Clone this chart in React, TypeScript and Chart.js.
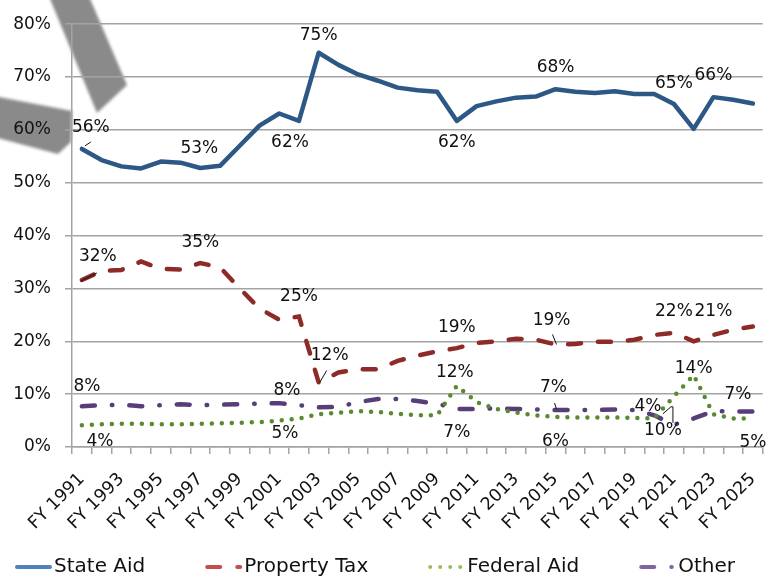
import React, { useEffect, useRef } from 'react';
import { Chart, registerables } from 'chart.js';

Chart.register(...registerables);

const years = [
  'FY 1991', 'FY 1992', 'FY 1993', 'FY 1994', 'FY 1995', 'FY 1996', 'FY 1997', 'FY 1998',
  'FY 1999', 'FY 2000', 'FY 2001', 'FY 2002', 'FY 2003', 'FY 2004', 'FY 2005', 'FY 2006',
  'FY 2007', 'FY 2008', 'FY 2009', 'FY 2010', 'FY 2011', 'FY 2012', 'FY 2013', 'FY 2014',
  'FY 2015', 'FY 2016', 'FY 2017', 'FY 2018', 'FY 2019', 'FY 2020', 'FY 2021', 'FY 2022',
  'FY 2023', 'FY 2024', 'FY 2025',
];

const stateAid = [
  56.4, 54.3, 53.1, 52.7, 54.0, 53.8, 52.8, 53.2, 57.0, 60.8, 63.1, 61.7, 74.6, 72.3, 70.5, 69.3,
  68.0, 67.5, 67.2, 61.7, 64.5, 65.4, 66.1, 66.3, 67.7, 67.2, 67.0, 67.3, 66.8, 66.8, 64.9, 60.2,
  66.2, 65.7, 65.0,
];
const propertyTax = [
  31.6, 33.3, 33.5, 35.1, 33.7, 33.6, 34.8, 34.0, 30.0, 26.2, 24.1, 24.7, 12.2, 14.1, 14.7, 14.7,
  16.3, 17.3, 18.1, 18.7, 19.7, 20.0, 20.5, 20.3, 19.4, 19.5, 19.9, 19.9, 20.3, 21.2, 21.6, 20.0,
  21.2, 22.2, 22.8,
];
const federalAid = [
  4.1, 4.3, 4.4, 4.4, 4.3, 4.3, 4.4, 4.5, 4.6, 4.7, 5.0, 5.4, 6.2, 6.5, 6.8, 6.6,
  6.3, 6.0, 6.0, 11.6, 8.5, 7.2, 6.5, 6.0, 5.7, 5.6, 5.6, 5.6, 5.5, 5.4, 9.6, 13.6,
  6.2, 5.4, 5.4,
];
const other = [
  7.7, 7.9, 8.0, 7.7, 7.9, 8.1, 7.9, 8.0, 8.1, 8.2, 8.3, 7.9, 7.5, 7.6, 8.5, 9.1,
  9.1, 8.7, 8.2, 7.2, 7.2, 7.3, 7.2, 7.1, 7.0, 7.0, 7.0, 7.1, 7.0, 6.0, 4.2, 5.4,
  6.8, 6.7, 6.7,
];

const yTicks = [0, 10, 20, 30, 40, 50, 60, 70, 80];

const seriesNames = ['State Aid', 'Property Tax', 'Federal Aid', 'Other'];
const lineColors = ['#2d5886', '#8e2b28', '#5a8a30', '#583e79'];
const legendColors = ['#4f81bd', '#c0504d', '#9bbb59', '#8064a2'];

// label styling: [index, dx, dy]
const stateAidLabels = [[0, 9, -21], [6, -1, -19], [11, -9, 22], [12, 0, -17], [19, 0, 22], [24, 0, -22], [30, 0, -20], [32, 0, -22]];
const propertyTaxLabels = [[0, 16, -23], [6, 0, -21], [11, 0, -20], [12, 11, -27], [19, 0, -21], [24, -4, -24], [30, 0, -21], [32, 0, -23]];
const federalAidLabels = [[0, 18, 16], [11, -14, 15], [19, -2, -13], [24, 0, 25], [30, -11, 34], [31, 0, -7], [34, 0, 24]];
const otherLabels = [[0, 5, -20], [11, -12, -15], [19, 0, 24], [24, -2, -22], [30, -26, -18], [34, -15, -17]];
// leader lines: [datasetIndex, index, ...relative points]
const leaders = [
  [0, 0, 3, -3, 9, -7],
  [1, 0, -1, 1, 15, -7],
  [1, 12, 1, 0, 8, -12],
  [1, 24, -3, -10, 1, 0],
  [3, 24, -1, -7, 1, -1],
  [3, 30, -11, -11, -3, -18, -1, -18, -1, -2],
];

const FONT = 'DejaVu Sans';
const GRID = '#a3a3a3';

const shapesPlugin = {
  id: 'greyShapes',
  beforeDraw(chart: any) {
    const ctx = chart.ctx;
    ctx.save();
    ctx.filter = 'blur(1.5px)';
    ctx.fillStyle = '#8a8a8a';
    ctx.beginPath();
    ctx.moveTo(48, -6);
    ctx.lineTo(88, -6);
    ctx.lineTo(127, 85);
    ctx.lineTo(97, 113);
    ctx.closePath();
    ctx.fill();
    ctx.beginPath();
    ctx.moveTo(-6, 96);
    ctx.lineTo(72, 111);
    ctx.lineTo(71, 142);
    ctx.lineTo(58, 154);
    ctx.lineTo(-6, 137);
    ctx.closePath();
    ctx.fill();
    ctx.restore();
  },
};

const labelsPlugin = {
  id: 'dataLabels',
  afterDatasetsDraw(chart: any) {
    const ctx = chart.ctx;
    const specs = [stateAidLabels, propertyTaxLabels, federalAidLabels, otherLabels];
    ctx.save();
    ctx.font = `17px "${FONT}"`;
    ctx.fillStyle = '#111';
    ctx.textAlign = 'center';
    ctx.textBaseline = 'middle';
    specs.forEach((list, di) => {
      const meta = chart.getDatasetMeta(di);
      const data = chart.data.datasets[di].data;
      list.forEach(([i, dx, dy]) => {
        const p = meta.data[i];
        ctx.fillText(Math.round(data[i]) + '%', p.x + dx, p.y + dy);
      });
    });
    ctx.strokeStyle = '#111';
    ctx.lineWidth = 1;
    leaders.forEach((l) => {
      const [di, i, ...pts] = l;
      const p = chart.getDatasetMeta(di).data[i];
      ctx.beginPath();
      for (let k = 0; k < pts.length; k += 2) {
        const x = p.x + pts[k];
        const y = p.y + pts[k + 1];
        if (k === 0) ctx.moveTo(x, y);
        else ctx.lineTo(x, y);
      }
      ctx.stroke();
    });
    ctx.restore();
  },
};

const legendPlugin = {
  id: 'customLegend',
  afterDraw(chart: any) {
    const ctx = chart.ctx;
    ctx.save();
    ctx.font = `20px "${FONT}"`;
    ctx.textBaseline = 'middle';
    ctx.textAlign = 'left';
    const y = 567;
    let x = 15;
    chart.data.datasets.forEach((ds: any, i: number) => {
      ctx.strokeStyle = legendColors[i];
      ctx.lineWidth = 4;
      ctx.lineCap = 'round';
      ctx.setLineDash(ds.borderDash || []);
      ctx.beginPath();
      ctx.moveTo(x + 2, y);
      ctx.lineTo(x + 35, y);
      ctx.stroke();
      ctx.setLineDash([]);
      ctx.fillStyle = '#111';
      ctx.fillText(ds.label, x + 39, y);
      x += 39 + ctx.measureText(ds.label).width + 60;
    });
    ctx.restore();
  },
};

export default function App() {
  const ref = useRef<HTMLCanvasElement>(null);
  useEffect(() => {
    document.body.style.margin = '0';
    const canvas = ref.current!;
    const chart = new Chart(canvas, {
      type: 'line',
      data: {
        labels: years,
        datasets: [
          { label: seriesNames[0], data: stateAid, borderColor: lineColors[0], borderWidth: 4.5, borderJoinStyle: 'round', borderCapStyle: 'round', pointRadius: 0, tension: 0 },
          { label: seriesNames[1], data: propertyTax, borderColor: lineColors[1], borderWidth: 4.5, borderDash: [13, 17], borderCapStyle: 'round', pointRadius: 0, tension: 0 },
          { label: seriesNames[2], data: federalAid, borderColor: lineColors[2], borderWidth: 4.5, borderDash: [0, 10], borderCapStyle: 'round', pointRadius: 0, tension: 0 },
          { label: seriesNames[3], data: other, borderColor: lineColors[3], borderWidth: 4.5, borderDash: [13, 17, 0.5, 17], borderCapStyle: 'round', pointRadius: 0, tension: 0 },
        ],
      } as any,
      options: {
        animation: false,
        responsive: false,
        maintainAspectRatio: false,
        layout: { padding: { top: 19, right: 19, left: 0, bottom: 0 } },
        plugins: { legend: { display: false }, tooltip: { enabled: false } },
        scales: {
          x: {
            type: 'category',
            offset: true,
            grid: { display: true, drawOnChartArea: false, drawTicks: true, tickLength: 7, color: GRID, lineWidth: 1.5, offset: true },
            border: { display: true, color: GRID, width: 1.5 },
            ticks: {
              autoSkip: false,
              maxRotation: 45,
              minRotation: 45,
              padding: 15,
              color: '#111',
              font: { family: FONT, size: 17.5 },
              callback: (_v: any, i: number) => (i % 2 === 0 ? years[i] : ''),
            },
            afterFit: (s: any) => { s.height = 133; },
          },
          y: {
            min: yTicks[0],
            max: yTicks[yTicks.length - 1],
            afterBuildTicks: (s: any) => { s.ticks = yTicks.map((v) => ({ value: v })); },
            ticks: { padding: 14, color: '#111', font: { family: FONT, size: 17 }, callback: (v: any) => v + '%' },
            grid: { color: GRID, lineWidth: 1.5, tickLength: 7 },
            border: { display: true, color: GRID, width: 1.5 },
            afterFit: (s: any) => { s.width = 72; },
          },
        },
      } as any,
      plugins: [shapesPlugin, labelsPlugin, legendPlugin],
    });
    return () => chart.destroy();
  }, []);
  return <canvas ref={ref} width={783} height={580} style={{ display: 'block' }} />;
}
